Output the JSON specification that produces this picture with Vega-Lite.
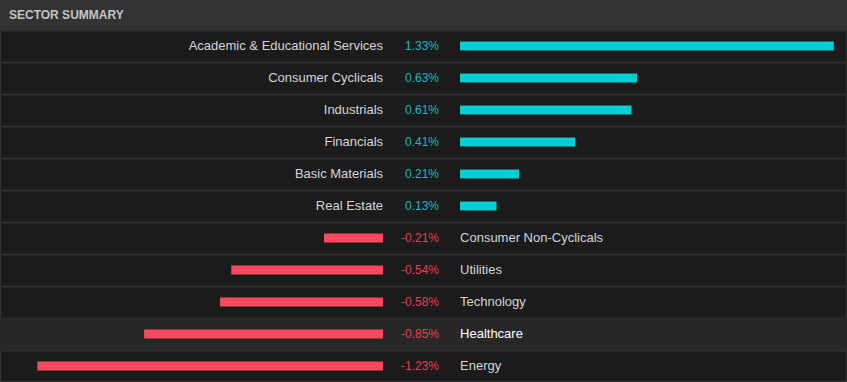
{
  "$schema": "https://vega.github.io/schema/vega-lite/v6.json",
  "width": 847,
  "height": 352,
  "autosize": "none",
  "padding": {"top": 30, "left": 0, "right": 0, "bottom": 0},
  "background": "#333333",
  "title": {
    "text": "SECTOR SUMMARY",
    "anchor": "start",
    "dx": 9,
    "dy": 12,
    "offset": 11,
    "baseline": "alphabetic",
    "font": "Liberation Sans",
    "fontSize": 12,
    "fontWeight": "bold",
    "color": "#c4c4c4"
  },
  "config": {
    "view": {"fill": "#1b1b1b", "stroke": "#333333", "strokeWidth": 2}
  },
  "data": {
    "values": [
      {"sector": "Academic & Educational Services", "v": 1.33, "label": "1.33%", "hl": false},
      {"sector": "Consumer Cyclicals", "v": 0.63, "label": "0.63%", "hl": false},
      {"sector": "Industrials", "v": 0.61, "label": "0.61%", "hl": false},
      {"sector": "Financials", "v": 0.41, "label": "0.41%", "hl": false},
      {"sector": "Basic Materials", "v": 0.21, "label": "0.21%", "hl": false},
      {"sector": "Real Estate", "v": 0.13, "label": "0.13%", "hl": false},
      {"sector": "Consumer Non-Cyclicals", "v": -0.21, "label": "-0.21%", "hl": false},
      {"sector": "Utilities", "v": -0.54, "label": "-0.54%", "hl": false},
      {"sector": "Technology", "v": -0.58, "label": "-0.58%", "hl": false},
      {"sector": "Healthcare", "v": -0.85, "label": "-0.85%", "hl": true},
      {"sector": "Energy", "v": -1.23, "label": "-1.23%", "hl": false}
    ]
  },
  "encoding": {
    "y": {
      "field": "sector",
      "type": "nominal",
      "sort": ["Academic & Educational Services", "Consumer Cyclicals", "Industrials", "Financials", "Basic Materials", "Real Estate", "Consumer Non-Cyclicals", "Utilities", "Technology", "Healthcare", "Energy"],
      "scale": {"paddingInner": 0, "paddingOuter": 0},
      "axis": {
        "title": null,
        "labels": false,
        "ticks": false,
        "domain": false,
        "grid": true,
        "bandPosition": 0,
        "gridColor": "#2e2e2e",
        "gridWidth": 2
      }
    }
  },
  "layer": [
    {
      "transform": [{"filter": "datum.hl"}],
      "mark": {"type": "bar", "color": "#272727"}
    },
    {
      "transform": [{"filter": "datum.v > 0"}],
      "mark": {"type": "bar", "color": "#00ced3", "size": 9, "xOffset": 77, "x2Offset": 77},
      "encoding": {
        "x": {"field": "v", "type": "quantitative", "scale": {"domain": [-1.363, 1.651], "zero": false, "nice": false}, "axis": null}
      }
    },
    {
      "transform": [{"filter": "datum.v < 0"}],
      "mark": {"type": "bar", "color": "#f9495f", "size": 9},
      "encoding": {
        "x": {"field": "v", "type": "quantitative", "scale": {"domain": [-1.363, 1.651], "zero": false, "nice": false}, "axis": null}
      }
    },
    {
      "transform": [{"filter": "datum.v > 0"}],
      "mark": {"type": "text", "align": "right", "baseline": "middle", "font": "Liberation Sans", "fontSize": 13},
      "encoding": {
        "x": {"datum": 0, "type": "quantitative"},
        "text": {"field": "sector"},
        "color": {"condition": {"test": "datum.hl", "value": "#ffffff"}, "value": "#d6d6d6"}
      }
    },
    {
      "transform": [{"filter": "datum.v < 0"}],
      "mark": {"type": "text", "align": "left", "baseline": "middle", "font": "Liberation Sans", "fontSize": 13, "dx": 77},
      "encoding": {
        "x": {"datum": 0, "type": "quantitative"},
        "text": {"field": "sector"},
        "color": {"condition": {"test": "datum.hl", "value": "#ffffff"}, "value": "#d6d6d6"}
      }
    },
    {
      "mark": {"type": "text", "align": "right", "baseline": "middle", "font": "Liberation Sans", "fontSize": 12, "dx": 56},
      "encoding": {
        "x": {"datum": 0, "type": "quantitative"},
        "text": {"field": "label"},
        "color": {"condition": {"test": "datum.v > 0", "value": "#1bb8c0"}, "value": "#e8404f"}
      }
    }
  ]
}
